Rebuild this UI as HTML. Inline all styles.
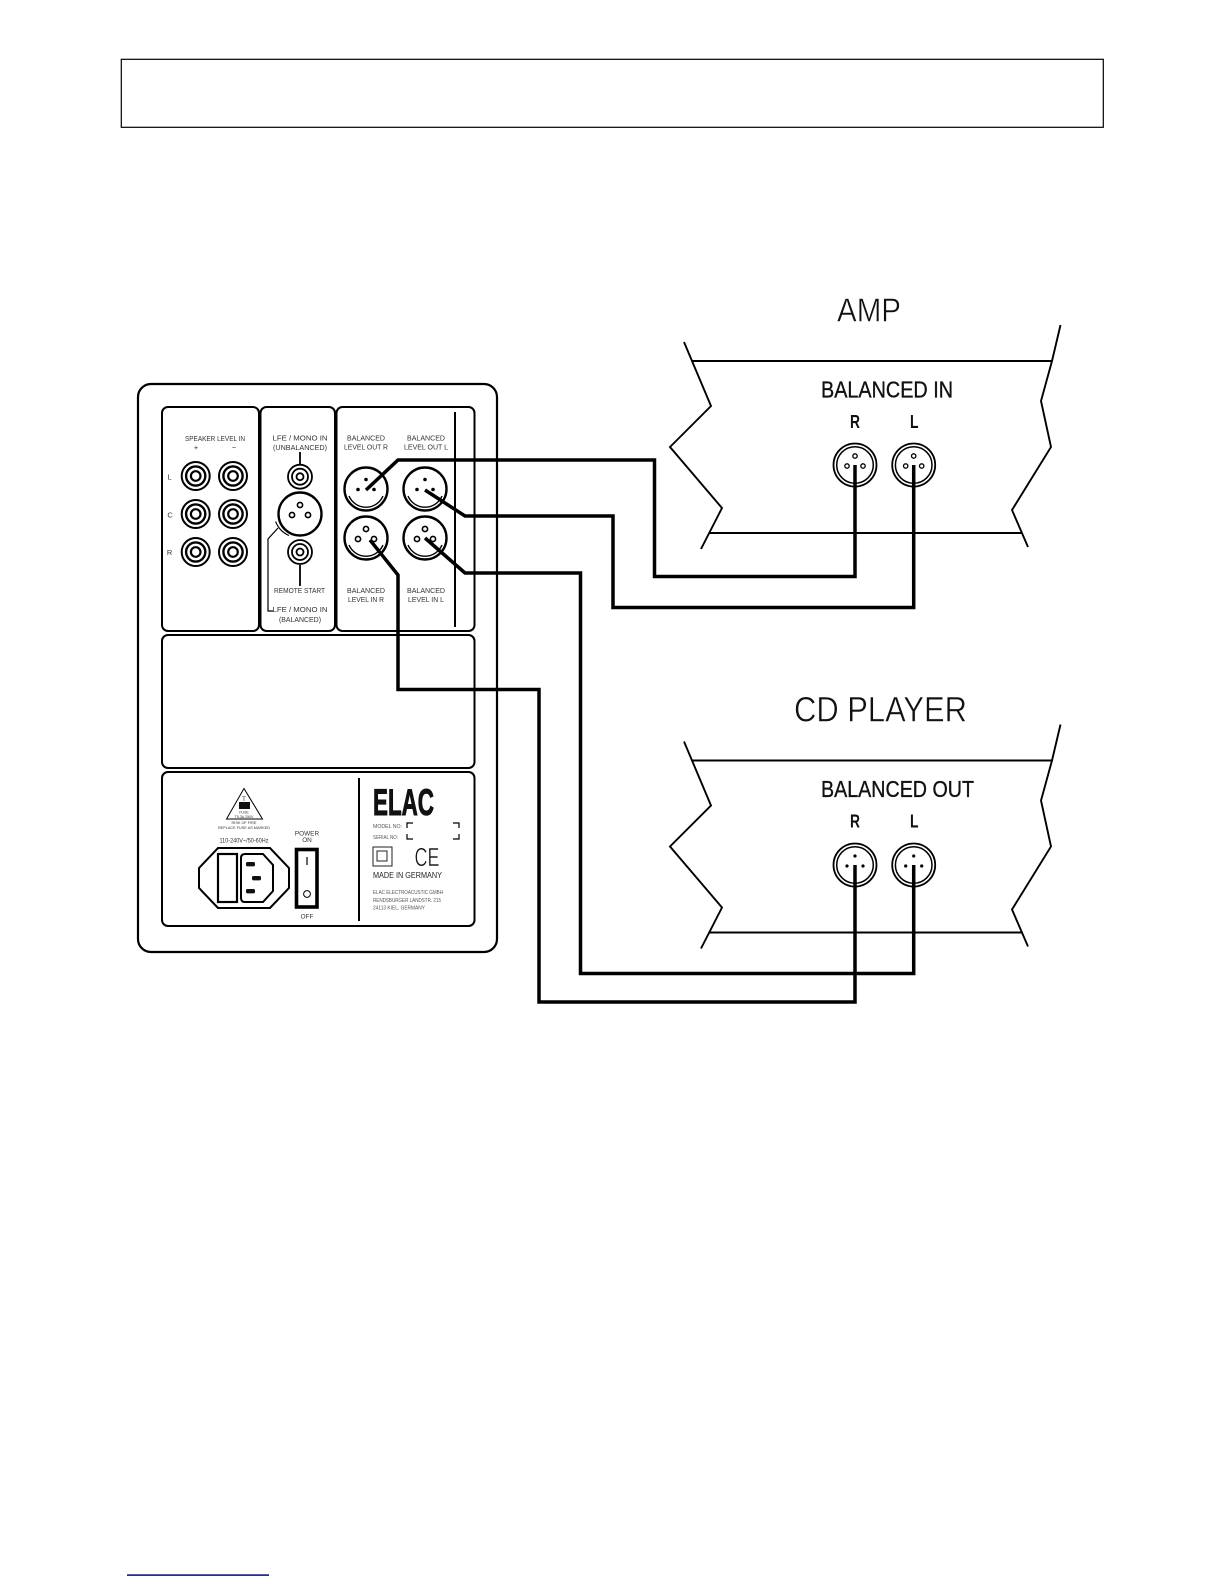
<!DOCTYPE html>
<html>
<head>
<meta charset="utf-8">
<style>
html,body{margin:0;padding:0;background:#fff;width:1224px;height:1584px;overflow:hidden}
svg{display:block}
text{font-family:"Liberation Sans",sans-serif;fill:#222}
.t{font-size:7.4px;text-anchor:middle;fill:#333}
.thin{fill:none;stroke:#000;stroke-width:1.9}
.wire{fill:none;stroke:#000;stroke-width:3.5;stroke-linejoin:miter}
.big{fill:#111}
.light{stroke:#fff;stroke-width:.5}
.med{stroke:#111;stroke-width:.35}
</style>
</head>
<body>
<svg width="1224" height="1584" viewBox="0 0 1224 1584" xmlns="http://www.w3.org/2000/svg">
<defs>
<g id="rca"><circle r="14" fill="#fff" stroke="#000" stroke-width="2"/><circle r="9.6" fill="none" stroke="#000" stroke-width="2.4"/><circle r="4.8" fill="none" stroke="#000" stroke-width="2.2"/></g>
<g id="rcas"><circle r="12" fill="#fff" stroke="#000" stroke-width="1.8"/><circle r="8" fill="none" stroke="#000" stroke-width="1.8"/><circle r="3.5" fill="none" stroke="#000" stroke-width="1.8"/></g>
<g id="xlr-o"><circle r="21.5" fill="#fff" stroke="#000" stroke-width="2.4"/><path d="M-17,7 A18.5,18.5 0 0 0 17,7" fill="none" stroke="#000" stroke-width="1.4"/><circle cx="0" cy="-9.5" r="1.8" fill="#000"/><circle cx="-8" cy="0.5" r="1.8" fill="#000"/><circle cx="8" cy="0.5" r="1.8" fill="#000"/></g>
<g id="xlr-i"><circle r="21.5" fill="#fff" stroke="#000" stroke-width="2.4"/><path d="M-17,7 A18.5,18.5 0 0 0 17,7" fill="none" stroke="#000" stroke-width="1.4"/><circle cx="0" cy="-9" r="2.6" fill="#fff" stroke="#000" stroke-width="1.6"/><circle cx="-8" cy="1" r="2.6" fill="#fff" stroke="#000" stroke-width="1.6"/><circle cx="8" cy="1" r="2.6" fill="#fff" stroke="#000" stroke-width="1.6"/></g>
<g id="body">
<path d="M692,361H1052M709,533H1022" class="thin"/>
<path d="M684,342L711,406L670,447L722,508L701,549M1060.5,325L1052,361L1041,401L1051,447L1012,510L1028,547" class="thin" stroke-linejoin="miter"/>
</g>
<g id="jack"><circle r="21.5" fill="#fff" stroke="#000" stroke-width="1.8"/><circle r="18.3" fill="none" stroke="#000" stroke-width="1.5"/></g>
</defs>

<!-- header box -->
<rect x="121.3" y="59.3" width="982" height="68" fill="#fff" stroke="#000" stroke-width="1.2"/>

<!-- footnote rule -->
<rect x="127" y="1574.3" width="142" height="1.6" fill="#14148c"/>

<!-- AMP -->
<text class="big light" x="837" y="321.7" font-size="33" textLength="64" lengthAdjust="spacingAndGlyphs">AMP</text>
<use href="#body"/>
<text class="big med" x="821" y="397.7" font-size="23" textLength="132" lengthAdjust="spacingAndGlyphs">BALANCED IN</text>
<text class="big" x="850" y="428" font-size="18" font-weight="bold" textLength="10" lengthAdjust="spacingAndGlyphs">R</text>
<text class="big" x="910" y="428" font-size="18" font-weight="bold" textLength="8.5" lengthAdjust="spacingAndGlyphs">L</text>
<g transform="translate(855,465)"><use href="#jack"/><circle cx="0" cy="-9" r="2.2" fill="#fff" stroke="#000" stroke-width="1.3"/><circle cx="-8" cy="1" r="2.2" fill="#fff" stroke="#000" stroke-width="1.3"/><circle cx="8" cy="1" r="2.2" fill="#fff" stroke="#000" stroke-width="1.3"/></g>
<g transform="translate(913.7,465)"><use href="#jack"/><circle cx="0" cy="-9" r="2.2" fill="#fff" stroke="#000" stroke-width="1.3"/><circle cx="-8" cy="1" r="2.2" fill="#fff" stroke="#000" stroke-width="1.3"/><circle cx="8" cy="1" r="2.2" fill="#fff" stroke="#000" stroke-width="1.3"/></g>

<!-- CD PLAYER -->
<text class="big light" x="794" y="721.7" font-size="35" textLength="173" lengthAdjust="spacingAndGlyphs">CD PLAYER</text>
<g transform="translate(0,399.5)"><use href="#body"/></g>
<text class="big med" x="821" y="797" font-size="23" textLength="153" lengthAdjust="spacingAndGlyphs">BALANCED OUT</text>
<text class="big" x="850" y="827.7" font-size="18" font-weight="bold" textLength="10" lengthAdjust="spacingAndGlyphs">R</text>
<text class="big" x="910" y="827.7" font-size="18" font-weight="bold" textLength="8.5" lengthAdjust="spacingAndGlyphs">L</text>
<g transform="translate(855,865)"><use href="#jack"/><circle cx="0" cy="-9" r="1.6" fill="#000"/><circle cx="-8" cy="1" r="1.6" fill="#000"/><circle cx="8" cy="1" r="1.6" fill="#000"/></g>
<g transform="translate(913.7,865)"><use href="#jack"/><circle cx="0" cy="-9" r="1.6" fill="#000"/><circle cx="-8" cy="1" r="1.6" fill="#000"/><circle cx="8" cy="1" r="1.6" fill="#000"/></g>

<!-- device -->
<rect x="138" y="384" width="359" height="568" rx="13" fill="#fff" stroke="#000" stroke-width="2.2"/>
<rect x="162" y="407" width="97" height="224" rx="6" fill="#fff" stroke="#000" stroke-width="2"/>
<rect x="260.5" y="407" width="74.5" height="224" rx="6" fill="#fff" stroke="#000" stroke-width="2"/>
<rect x="336.5" y="407" width="138" height="224" rx="6" fill="#fff" stroke="#000" stroke-width="2"/>
<rect x="162" y="635" width="312.5" height="133" rx="6" fill="#fff" stroke="#000" stroke-width="2"/>
<rect x="162" y="772" width="312.5" height="154" rx="6" fill="#fff" stroke="#000" stroke-width="2"/>
<path d="M455,412V627" stroke="#000" stroke-width="2"/>

<text class="t" x="215" y="441" textLength="60" lengthAdjust="spacingAndGlyphs">SPEAKER LEVEL IN</text>
<text class="t" x="196" y="450">+</text><text class="t" x="234" y="450">−</text>
<text class="t" x="169.5" y="479.5">L</text><text class="t" x="170" y="517.5">C</text><text class="t" x="169.5" y="555">R</text>
<use href="#rca" x="195.7" y="476"/><use href="#rca" x="233" y="476"/>
<use href="#rca" x="195.7" y="514"/><use href="#rca" x="233" y="514"/>
<use href="#rca" x="195.7" y="552"/><use href="#rca" x="233" y="552"/>

<text class="t" x="300" y="440.5" textLength="55" lengthAdjust="spacingAndGlyphs">LFE / MONO IN</text>
<text class="t" x="300" y="450" textLength="54" lengthAdjust="spacingAndGlyphs">(UNBALANCED)</text>
<path d="M300,452V465M300,565V586" stroke="#000" stroke-width="1.8"/>
<use href="#rcas" x="300" y="476.7"/>
<use href="#rcas" x="300" y="552"/>
<g transform="translate(300,514)"><circle r="21.5" fill="#fff" stroke="#000" stroke-width="2.4"/><circle cx="0" cy="-9" r="2.6" fill="#fff" stroke="#000" stroke-width="1.6"/><circle cx="-8" cy="1" r="2.6" fill="#fff" stroke="#000" stroke-width="1.6"/><circle cx="8" cy="1" r="2.6" fill="#fff" stroke="#000" stroke-width="1.6"/></g>
<path d="M275.6,521.5A25,25 0 0 0 289,535.5" fill="none" stroke="#000" stroke-width="1.1"/>
<path d="M278,528L268,539V611H273" fill="none" stroke="#000" stroke-width="1.2"/>
<text class="t" x="299.5" y="593" textLength="51" lengthAdjust="spacingAndGlyphs">REMOTE START</text>
<text class="t" x="300" y="612" textLength="55" lengthAdjust="spacingAndGlyphs">LFE / MONO IN</text>
<text class="t" x="300" y="622" textLength="42" lengthAdjust="spacingAndGlyphs">(BALANCED)</text>

<text class="t" x="366" y="440.5" textLength="38" lengthAdjust="spacingAndGlyphs">BALANCED</text>
<text class="t" x="366" y="449.5" textLength="44" lengthAdjust="spacingAndGlyphs">LEVEL OUT R</text>
<text class="t" x="426" y="440.5" textLength="38" lengthAdjust="spacingAndGlyphs">BALANCED</text>
<text class="t" x="426" y="449.5" textLength="44" lengthAdjust="spacingAndGlyphs">LEVEL OUT L</text>
<text class="t" x="366" y="593" textLength="38" lengthAdjust="spacingAndGlyphs">BALANCED</text>
<text class="t" x="366" y="602" textLength="36" lengthAdjust="spacingAndGlyphs">LEVEL IN R</text>
<text class="t" x="426" y="593" textLength="38" lengthAdjust="spacingAndGlyphs">BALANCED</text>
<text class="t" x="426" y="602" textLength="36" lengthAdjust="spacingAndGlyphs">LEVEL IN L</text>
<use href="#xlr-o" x="366" y="489"/><use href="#xlr-o" x="425" y="489"/>
<use href="#xlr-i" x="366" y="538"/><use href="#xlr-i" x="425" y="538"/>

<!-- power panel -->
<path d="M359,778V921" stroke="#000" stroke-width="2"/>
<path d="M244,788.5L226.5,819H262.5Z" fill="none" stroke="#000" stroke-width="1"/>
<text x="244" y="801" font-size="6" text-anchor="middle">T</text>
<rect x="239" y="802" width="11" height="7" fill="#111"/>
<text class="t" x="244" y="813.5" style="font-size:3.6px">FUSE</text>
<text class="t" x="244" y="818" style="font-size:3.6px">T5.3A 250V</text>
<text class="t" x="244" y="824" style="font-size:3.8px">RISK OF FIRE</text>
<text class="t" x="244" y="829" style="font-size:3.8px">REPLACE FUSE AS MARKED</text>
<text class="t" x="244" y="842.5" style="font-size:6px" textLength="49" lengthAdjust="spacingAndGlyphs">110-240V~/50-60Hz</text>
<path d="M218,848H270L289,868V888L270,908H218L199,888V868Z" fill="none" stroke="#000" stroke-width="2"/>
<rect x="218" y="854" width="19" height="48" fill="none" stroke="#000" stroke-width="2.2"/>
<path d="M245,854H263L273,865V891L263,902H245Q241,902 241,898V858Q241,854 245,854Z" fill="none" stroke="#000" stroke-width="2"/>
<rect x="246" y="862" width="9" height="4.4" rx="1.5" fill="#111"/>
<rect x="252" y="876" width="9" height="4.4" rx="1.5" fill="#111"/>
<rect x="246" y="889" width="9" height="4.4" rx="1.5" fill="#111"/>
<rect x="296.5" y="849.5" width="20.5" height="57.5" fill="#fff" stroke="#000" stroke-width="3.6"/>
<path d="M307,857V865" stroke="#000" stroke-width="1.2"/>
<circle cx="307" cy="894" r="3.4" fill="none" stroke="#000" stroke-width="1"/>
<text class="t" x="307" y="835.5" style="font-size:6.4px">POWER</text>
<text class="t" x="307" y="842" style="font-size:6.4px">ON</text>
<text class="t" x="307" y="918.5" style="font-size:6.4px">OFF</text>

<text x="373" y="815" font-size="37" font-weight="bold" textLength="61" lengthAdjust="spacingAndGlyphs" style="fill:#111;stroke:#111;stroke-width:1">ELAC</text>
<text x="373" y="828" font-size="5.2" textLength="29" lengthAdjust="spacingAndGlyphs" style="fill:#555">MODEL NO:</text>
<text x="373" y="839" font-size="5.2" textLength="25" lengthAdjust="spacingAndGlyphs" style="fill:#555">SERIAL NO:</text>
<path d="M407,828V823H413M453,823H459V828M407,834V839H413M453,839H459V834" fill="none" stroke="#000" stroke-width="1.2"/>
<rect x="373" y="847" width="19" height="19" fill="none" stroke="#222" stroke-width="1"/>
<rect x="377" y="851" width="10" height="10" fill="none" stroke="#222" stroke-width="1"/>
<text x="414.5" y="866" font-size="26" textLength="25" lengthAdjust="spacingAndGlyphs" style="fill:#111;stroke:#fff;stroke-width:.5">CE</text>
<text x="373" y="878" font-size="8" textLength="69" lengthAdjust="spacingAndGlyphs">MADE IN GERMANY</text>
<text x="373" y="894" font-size="5.4" textLength="70" lengthAdjust="spacingAndGlyphs" style="fill:#555">ELAC ELECTROACUSTIC GMBH</text>
<text x="373" y="902" font-size="5.4" textLength="68" lengthAdjust="spacingAndGlyphs" style="fill:#555">RENDSBURGER LANDSTR. 215</text>
<text x="373" y="909.5" font-size="5.4" textLength="52" lengthAdjust="spacingAndGlyphs" style="fill:#555">24113 KIEL, GERMANY</text>

<!-- wires -->
<path class="wire" d="M366,490L398,460H654.5V576.5H855V465"/>
<path class="wire" d="M425,490L465,516H613V607.5H913.7V465"/>
<path class="wire" d="M425,538L465,573H580.5V973.5H913.7V865"/>
<path class="wire" d="M370,540L398,575V689.5H539V1002H855V865"/>
</svg>
</body>
</html>
